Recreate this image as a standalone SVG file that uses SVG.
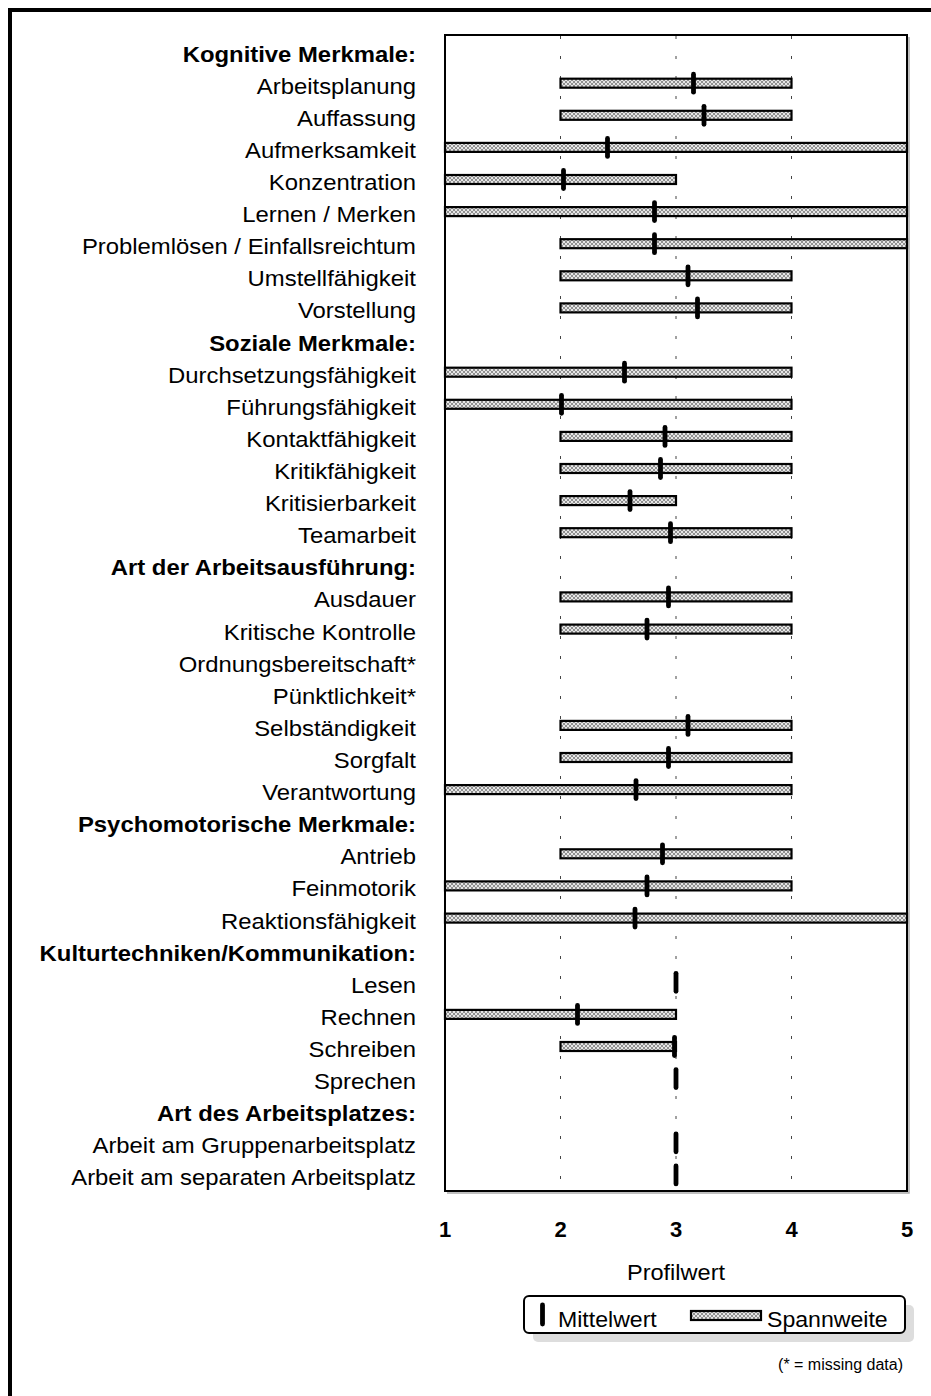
<svg xmlns="http://www.w3.org/2000/svg" width="931" height="1396" viewBox="0 0 931 1396">
<style>
.lbl{font-family:"Liberation Sans",Arial,sans-serif;font-size:21.5px;fill:#000;text-anchor:end}
.hd{font-weight:bold}
.ax{font-family:"Liberation Sans",Arial,sans-serif;font-size:22px;font-weight:bold;fill:#000;text-anchor:middle}
.t{font-family:"Liberation Sans",Arial,sans-serif;fill:#000}
.bar{fill:url(#hatch);stroke:#000;stroke-width:2.2}
.mean{stroke:#000;stroke-width:4.8;stroke-linecap:round}
.grid{stroke:#444;stroke-width:1;stroke-dasharray:3 17}
</style>
<defs>
<pattern id="hatch" patternUnits="userSpaceOnUse" width="4" height="4">
<rect width="4" height="4" fill="#e6e6e6"/>
<path d="M0,0 L4,4 M4,0 L0,4" stroke="#7a7a7a" stroke-width="0.8"/>
</pattern>
</defs>
<rect x="0" y="0" width="931" height="1396" fill="#fff"/>
<rect id="outer-frame" x="10" y="10" width="1000" height="1500" fill="none" stroke="#000" stroke-width="4"/>
<g id="plot-area">
<polyline points="909,37 909,1193 447,1193" fill="none" stroke="#aaa" stroke-width="1.5"/>
<rect x="445" y="35" width="462" height="1156" fill="#fff" stroke="#000" stroke-width="2"/>
</g>
<g id="gridlines">
<line class="grid" x1="560.5" y1="36" x2="560.5" y2="1190"/>
<line class="grid" x1="676" y1="36" x2="676" y2="1190"/>
<line class="grid" x1="791.5" y1="36" x2="791.5" y2="1190"/>
</g>
<g id="rows">
<g id="row-kognitive"><text class="lbl hd" transform="translate(416,61.6) scale(1.11,1)">Kognitive Merkmale:</text></g>
<g id="row-arbeitsplanung"><text class="lbl" transform="translate(416,93.7) scale(1.11,1)">Arbeitsplanung</text><rect class="bar" x="560.5" y="78.7" width="231" height="9"/><line class="mean" x1="693.5" y1="74.2" x2="693.5" y2="92.2"/></g>
<g id="row-auffassung"><text class="lbl" transform="translate(416,125.8) scale(1.11,1)">Auffassung</text><rect class="bar" x="560.5" y="110.8" width="231" height="9"/><line class="mean" x1="704" y1="106.3" x2="704" y2="124.3"/></g>
<g id="row-aufmerksamkeit"><text class="lbl" transform="translate(416,157.9) scale(1.11,1)">Aufmerksamkeit</text><rect class="bar" x="445" y="142.9" width="462" height="9"/><line class="mean" x1="607.5" y1="138.4" x2="607.5" y2="156.4"/></g>
<g id="row-konzentration"><text class="lbl" transform="translate(416,190) scale(1.11,1)">Konzentration</text><rect class="bar" x="445" y="175" width="231" height="9"/><line class="mean" x1="563.5" y1="170.5" x2="563.5" y2="188.5"/></g>
<g id="row-lernen"><text class="lbl" transform="translate(416,222.1) scale(1.11,1)">Lernen / Merken</text><rect class="bar" x="445" y="207.1" width="462" height="9"/><line class="mean" x1="654.5" y1="202.6" x2="654.5" y2="220.6"/></g>
<g id="row-problemloesen"><text class="lbl" transform="translate(416,254.2) scale(1.11,1)">Problemlösen / Einfallsreichtum</text><rect class="bar" x="560.5" y="239.2" width="346.5" height="9"/><line class="mean" x1="654.5" y1="234.7" x2="654.5" y2="252.7"/></g>
<g id="row-umstellfaehigkeit"><text class="lbl" transform="translate(416,286.3) scale(1.11,1)">Umstellfähigkeit</text><rect class="bar" x="560.5" y="271.3" width="231" height="9"/><line class="mean" x1="688" y1="266.8" x2="688" y2="284.8"/></g>
<g id="row-vorstellung"><text class="lbl" transform="translate(416,318.4) scale(1.11,1)">Vorstellung</text><rect class="bar" x="560.5" y="303.4" width="231" height="9"/><line class="mean" x1="697.5" y1="298.9" x2="697.5" y2="316.9"/></g>
<g id="row-soziale"><text class="lbl hd" transform="translate(416,350.6) scale(1.11,1)">Soziale Merkmale:</text></g>
<g id="row-durchsetzung"><text class="lbl" transform="translate(416,382.7) scale(1.11,1)">Durchsetzungsfähigkeit</text><rect class="bar" x="445" y="367.7" width="346.5" height="9"/><line class="mean" x1="624.5" y1="363.2" x2="624.5" y2="381.2"/></g>
<g id="row-fuehrung"><text class="lbl" transform="translate(416,414.8) scale(1.11,1)">Führungsfähigkeit</text><rect class="bar" x="445" y="399.8" width="346.5" height="9"/><line class="mean" x1="561.5" y1="395.3" x2="561.5" y2="413.3"/></g>
<g id="row-kontakt"><text class="lbl" transform="translate(416,446.9) scale(1.11,1)">Kontaktfähigkeit</text><rect class="bar" x="560.5" y="431.9" width="231" height="9"/><line class="mean" x1="665" y1="427.4" x2="665" y2="445.4"/></g>
<g id="row-kritikfaehigkeit"><text class="lbl" transform="translate(416,479) scale(1.11,1)">Kritikfähigkeit</text><rect class="bar" x="560.5" y="464" width="231" height="9"/><line class="mean" x1="660.5" y1="459.5" x2="660.5" y2="477.5"/></g>
<g id="row-kritisierbarkeit"><text class="lbl" transform="translate(416,511.1) scale(1.11,1)">Kritisierbarkeit</text><rect class="bar" x="560.5" y="496.1" width="115.5" height="9"/><line class="mean" x1="630" y1="491.6" x2="630" y2="509.6"/></g>
<g id="row-teamarbeit"><text class="lbl" transform="translate(416,543.2) scale(1.11,1)">Teamarbeit</text><rect class="bar" x="560.5" y="528.2" width="231" height="9"/><line class="mean" x1="670.5" y1="523.7" x2="670.5" y2="541.7"/></g>
<g id="row-arbeitsausfuehrung"><text class="lbl hd" transform="translate(416,575.3) scale(1.11,1)">Art der Arbeitsausführung:</text></g>
<g id="row-ausdauer"><text class="lbl" transform="translate(416,607.4) scale(1.11,1)">Ausdauer</text><rect class="bar" x="560.5" y="592.4" width="231" height="9"/><line class="mean" x1="668.5" y1="587.9" x2="668.5" y2="605.9"/></g>
<g id="row-kritische-kontrolle"><text class="lbl" transform="translate(416,639.6) scale(1.11,1)">Kritische Kontrolle</text><rect class="bar" x="560.5" y="624.6" width="231" height="9"/><line class="mean" x1="647" y1="620.1" x2="647" y2="638.1"/></g>
<g id="row-ordnung"><text class="lbl" transform="translate(416,671.7) scale(1.11,1)">Ordnungsbereitschaft*</text></g>
<g id="row-puenktlichkeit"><text class="lbl" transform="translate(416,703.8) scale(1.11,1)">Pünktlichkeit*</text></g>
<g id="row-selbstaendigkeit"><text class="lbl" transform="translate(416,735.9) scale(1.11,1)">Selbständigkeit</text><rect class="bar" x="560.5" y="720.9" width="231" height="9"/><line class="mean" x1="688" y1="716.4" x2="688" y2="734.4"/></g>
<g id="row-sorgfalt"><text class="lbl" transform="translate(416,768) scale(1.11,1)">Sorgfalt</text><rect class="bar" x="560.5" y="753" width="231" height="9"/><line class="mean" x1="668.5" y1="748.5" x2="668.5" y2="766.5"/></g>
<g id="row-verantwortung"><text class="lbl" transform="translate(416,800.1) scale(1.11,1)">Verantwortung</text><rect class="bar" x="445" y="785.1" width="346.5" height="9"/><line class="mean" x1="636" y1="780.6" x2="636" y2="798.6"/></g>
<g id="row-psychomotorisch"><text class="lbl hd" transform="translate(416,832.2) scale(1.11,1)">Psychomotorische Merkmale:</text></g>
<g id="row-antrieb"><text class="lbl" transform="translate(416,864.3) scale(1.11,1)">Antrieb</text><rect class="bar" x="560.5" y="849.3" width="231" height="9"/><line class="mean" x1="662.5" y1="844.8" x2="662.5" y2="862.8"/></g>
<g id="row-feinmotorik"><text class="lbl" transform="translate(416,896.4) scale(1.11,1)">Feinmotorik</text><rect class="bar" x="445" y="881.4" width="346.5" height="9"/><line class="mean" x1="647" y1="876.9" x2="647" y2="894.9"/></g>
<g id="row-reaktion"><text class="lbl" transform="translate(416,928.6) scale(1.11,1)">Reaktionsfähigkeit</text><rect class="bar" x="445" y="913.6" width="462" height="9"/><line class="mean" x1="635" y1="909.1" x2="635" y2="927.1"/></g>
<g id="row-kulturtechniken"><text class="lbl hd" transform="translate(416,960.7) scale(1.11,1)">Kulturtechniken/Kommunikation:</text></g>
<g id="row-lesen"><text class="lbl" transform="translate(416,992.8) scale(1.11,1)">Lesen</text><line class="mean" x1="676" y1="973.3" x2="676" y2="991.3"/></g>
<g id="row-rechnen"><text class="lbl" transform="translate(416,1024.9) scale(1.11,1)">Rechnen</text><rect class="bar" x="445" y="1009.9" width="231" height="9"/><line class="mean" x1="577.5" y1="1005.4" x2="577.5" y2="1023.4"/></g>
<g id="row-schreiben"><text class="lbl" transform="translate(416,1057) scale(1.11,1)">Schreiben</text><rect class="bar" x="560.5" y="1042" width="115.5" height="9"/><line class="mean" x1="674.5" y1="1037.5" x2="674.5" y2="1055.5"/></g>
<g id="row-sprechen"><text class="lbl" transform="translate(416,1089.1) scale(1.11,1)">Sprechen</text><line class="mean" x1="676" y1="1069.6" x2="676" y2="1087.6"/></g>
<g id="row-arbeitsplatz"><text class="lbl hd" transform="translate(416,1121.2) scale(1.11,1)">Art des Arbeitsplatzes:</text></g>
<g id="row-gruppenarbeitsplatz"><text class="lbl" transform="translate(416,1153.3) scale(1.11,1)">Arbeit am Gruppenarbeitsplatz</text><line class="mean" x1="676" y1="1133.8" x2="676" y2="1151.8"/></g>
<g id="row-separater-arbeitsplatz"><text class="lbl" transform="translate(416,1185.4) scale(1.11,1)">Arbeit am separaten Arbeitsplatz</text><line class="mean" x1="676" y1="1165.9" x2="676" y2="1183.9"/></g>
</g>
<g id="x-axis">
<text class="ax" x="445" y="1237">1</text>
<text class="ax" x="560.5" y="1237">2</text>
<text class="ax" x="676" y="1237">3</text>
<text class="ax" x="791.5" y="1237">4</text>
<text class="ax" x="907" y="1237">5</text>
<text class="t" x="676" y="1280" font-size="22" text-anchor="middle" transform="translate(676,0) scale(1.07,1) translate(-676,0)">Profilwert</text>
</g>
<g id="legend">
<rect x="533" y="1305" width="381" height="37" rx="5" fill="#dddddd"/>
<rect x="524" y="1296" width="381" height="37" rx="5" fill="#fff" stroke="#000" stroke-width="2"/>
<line class="mean" x1="542.5" y1="1305" x2="542.5" y2="1324" stroke-width="5"/>
<text class="t" x="558" y="1327" font-size="22" transform="translate(558,0) scale(1.05,1) translate(-558,0)">Mittelwert</text>
<rect class="bar" x="691" y="1311" width="70" height="9"/>
<text class="t" x="767" y="1327" font-size="22" transform="translate(767,0) scale(1.05,1) translate(-767,0)">Spannweite</text>
</g>
<text id="footnote" class="t" x="903" y="1370" font-size="16" text-anchor="end">(* = missing data)</text>
</svg>
